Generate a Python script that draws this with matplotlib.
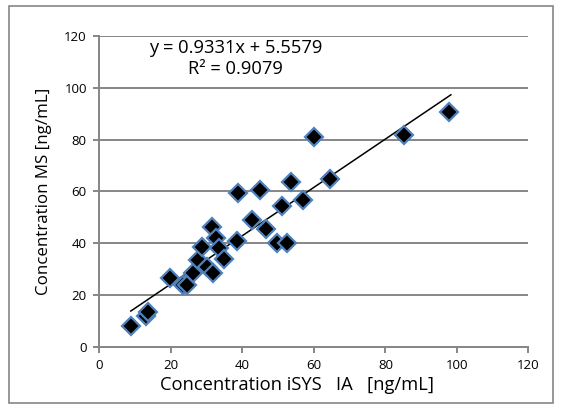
import numpy as np
import matplotlib
matplotlib.use('Agg')
import matplotlib.pyplot as plt
from matplotlib.patches import Rectangle

isys_ia = [8.8, 13.0, 13.7, 19.8, 23.5, 24.4, 26.3, 27.7, 28.6, 30.0, 31.7,
           31.4, 32.6, 33.6, 35.0, 38.4, 38.7, 42.6, 44.8, 46.5, 49.6, 52.4,
           51.2, 53.6, 56.9, 64.5, 59.9, 85.2, 97.8]
ms = [8.1, 11.9, 13.5, 26.4, 23.8, 24.0, 28.3, 33.5, 38.6, 30.9, 28.6,
      46.3, 41.9, 38.0, 33.9, 40.9, 59.2, 48.9, 60.5, 45.3, 39.9, 40.2,
      54.3, 63.7, 56.7, 64.6, 80.9, 81.8, 90.8]

slope = 0.9331
intercept = 5.5579
r_squared = 0.9079

x_ticks = [0, 20, 40, 60, 80, 100, 120]
y_ticks = [0, 20, 40, 60, 80, 100, 120]

plt.rcParams['font.family'] = ['Open Sans', 'DejaVu Sans']

fig = plt.figure(figsize=(5.63, 4.09), dpi=100)
ax = fig.add_axes([0.1764, 0.1523, 0.9387 - 0.1764, 0.912 - 0.1523])

grey = '#868686'

# outer chart border
fig.patches.append(Rectangle((9 / 563, 1 - 403 / 409), (553 - 9) / 563, (403 - 6) / 409,
                             transform=fig.transFigure, fill=False,
                             edgecolor=grey, linewidth=1.2))

ax.set_xlim(0, 120)
ax.set_ylim(0, 120)
ax.set_xticks(x_ticks)
ax.set_yticks(y_ticks)
ax.grid(axis='y', color=grey, linewidth=1.4)
ax.set_axisbelow(True)
for side in ['top', 'right']:
    ax.spines[side].set_visible(False)
for side in ['left', 'bottom']:
    ax.spines[side].set_color(grey)
    ax.spines[side].set_linewidth(1.4)
ax.tick_params(direction='out', length=4, width=1.4, color=grey,
               labelsize=9.5, labelcolor='black', pad=5)

# trendline
xs = np.array([min(isys_ia), 98.3])
ax.plot(xs, slope * xs + intercept, color='black', linewidth=1.1, zorder=3)

ax.plot(isys_ia, ms, linestyle='none', marker='D', markersize=9.5,
        markerfacecolor='black', markeredgecolor='#4F81BD',
        markeredgewidth=1.6, zorder=4)

ax.text(38.2, 111.3, f'y = {slope}x + {intercept}\nR\u00b2 = {r_squared}',
        ha='center', va='center', fontsize=13.2, linespacing=1.15)

ax.set_xlabel('Concentration iSYS   IA   [ng/mL]', fontsize=13.2)
ax.xaxis.set_label_coords((296.5 - 99.3) / (528.5 - 99.3), -0.093,
                          transform=ax.transAxes)
ax.xaxis.label.set_va('top')
ax.set_ylabel('Concentration MS [ng/mL]', fontsize=12.2, labelpad=9)

fig.savefig('out.png', dpi=100)
